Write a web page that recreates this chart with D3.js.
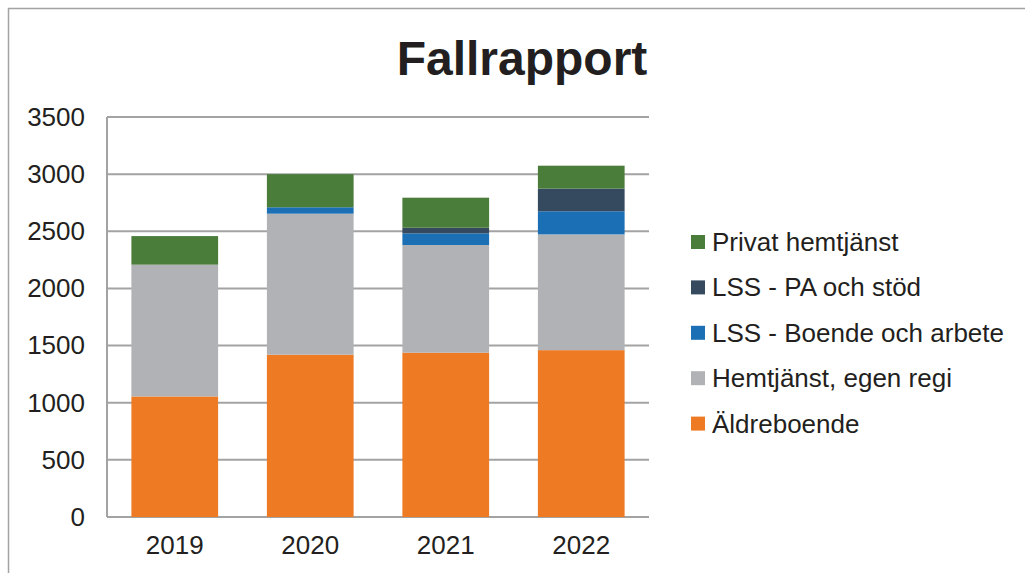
<!DOCTYPE html>
<html>
<head>
<meta charset="utf-8">
<script src="https://cdn.jsdelivr.net/npm/d3@7"></script>
<style>
  body { margin: 0; background: #fff; }
  text { font-family: "Liberation Sans", Arial, sans-serif; fill: #231f20; }
</style>
</head>
<body>
<div id="chart"></div>
<script>
// Data
const years = ["2019", "2020", "2021", "2022"];
const aldreboende = [1055, 1420, 1438, 1460];
const hemtjanstEgen = [1153, 1234, 942, 1013];
const lssBoende = [0, 56, 102, 202];
const lssPA = [0, 0, 49, 198];
const privatHemtjanst = [250, 290, 263, 201];
const yTicks = [0, 500, 1000, 1500, 2000, 2500, 3000, 3500];

const seriesNames = ["Äldreboende", "Hemtjänst, egen regi", "LSS - Boende och arbete", "LSS - PA och stöd", "Privat hemtjänst"];
const seriesValues = [aldreboende, hemtjanstEgen, lssBoende, lssPA, privatHemtjanst];
const colors = ["#ee7b24", "#b1b2b6", "#1b6fb5", "#35495f", "#4a7c3a"];

const width = 1025, height = 573;
const plot = { left: 107, right: 649, top: 117, bottom: 517 };

const svg = d3.select("#chart").append("svg")
  .attr("width", width)
  .attr("height", height);

// outer chart frame (runs off the picture on right/bottom)
svg.append("path")
  .attr("d", `M8.5,${height + 2} V8.5 H${width + 2}`)
  .attr("fill", "none")
  .attr("stroke", "#a3a3a3")
  .attr("stroke-width", 1.5);

// title
svg.append("text")
  .attr("x", 522)
  .attr("y", 75)
  .attr("text-anchor", "middle")
  .style("font-size", "48px")
  .style("font-weight", "bold")
  .text("Fallrapport");

const x = d3.scaleBand()
  .domain(years)
  .range([plot.left, plot.right])
  .paddingInner(0.36)
  .paddingOuter(0.18);

const y = d3.scaleLinear()
  .domain([0, 3500])
  .range([plot.bottom, plot.top]);

// gridlines
svg.append("g")
  .selectAll("line")
  .data(yTicks)
  .enter()
  .append("line")
  .attr("x1", plot.left)
  .attr("x2", plot.right)
  .attr("y1", d => y(d))
  .attr("y2", d => y(d))
  .attr("stroke", "#a3a3a3")
  .attr("stroke-width", 2);

// left axis line
svg.append("line")
  .attr("x1", plot.left).attr("x2", plot.left)
  .attr("y1", plot.top).attr("y2", plot.bottom)
  .attr("stroke", "#a3a3a3")
  .attr("stroke-width", 2);

// stacked bars
const table = years.map((yr, i) => {
  const row = { year: yr };
  seriesNames.forEach((n, s) => { row[n] = seriesValues[s][i]; });
  return row;
});
const stacked = d3.stack().keys(seriesNames)(table);

svg.append("g")
  .selectAll("g")
  .data(stacked)
  .enter()
  .append("g")
  .attr("fill", (d, i) => colors[i])
  .selectAll("rect")
  .data(d => d.filter(p => p[1] > p[0]))
  .enter()
  .append("rect")
  .attr("x", d => x(d.data.year))
  .attr("width", x.bandwidth())
  .attr("y", d => y(d[1]))
  .attr("height", d => y(d[0]) - y(d[1]));

// y axis labels
const yAxis = d3.axisLeft(y).tickValues(yTicks).tickFormat(d3.format("d")).tickSize(0).tickPadding(22);
const yg = svg.append("g")
  .attr("transform", `translate(${plot.left},0)`)
  .call(yAxis);
yg.select(".domain").remove();
yg.selectAll("text")
  .style("font-size", "26px")
  .style("font-family", "Liberation Sans, Arial, sans-serif")
  .attr("fill", "#231f20");

// x axis labels
const xAxis = d3.axisBottom(x).tickSize(0).tickPadding(19);
const xg = svg.append("g")
  .attr("transform", `translate(0,${plot.bottom})`)
  .call(xAxis);
xg.select(".domain").remove();
xg.selectAll("text")
  .style("font-size", "26px")
  .style("font-family", "Liberation Sans, Arial, sans-serif")
  .attr("fill", "#231f20");

// legend (reverse order, top = Privat hemtjänst)
const legendOrder = seriesNames.map((n, i) => i).reverse();
const legend = svg.append("g")
  .selectAll("g")
  .data(legendOrder)
  .enter()
  .append("g")
  .attr("transform", (d, i) => `translate(691, ${242 + i * 45.4})`);

legend.append("rect")
  .attr("x", 0)
  .attr("y", -7)
  .attr("width", 14)
  .attr("height", 14)
  .attr("fill", d => colors[d]);

legend.append("text")
  .attr("x", 21)
  .attr("y", 9)
  .style("font-size", "26px")
  .text(d => seriesNames[d]);
</script>
</body>
</html>
